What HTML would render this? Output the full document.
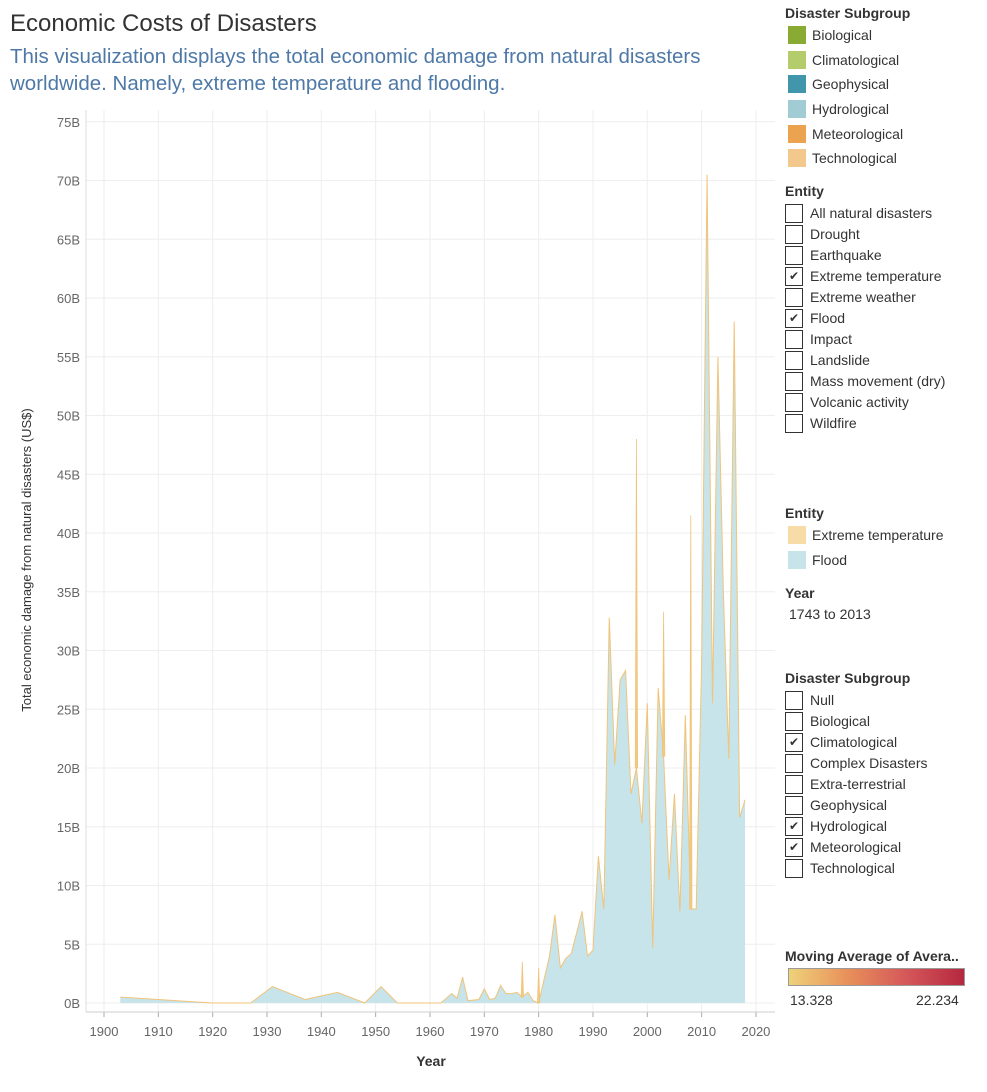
<!DOCTYPE html>
<html><head><meta charset="utf-8"><style>
body{margin:0;width:987px;height:1092px;background:#fff;font-family:"Liberation Sans",sans-serif;position:relative;overflow:hidden;color:#333}
.a{position:absolute;white-space:nowrap}
.h{font-weight:bold;font-size:14px;color:#333}
.li{font-size:14px;color:#333}
.sw{position:absolute;width:18px;height:18px}
.cb{position:absolute;width:18px;height:19px;border:1px solid #333;box-sizing:border-box;font-size:12px;line-height:17px;text-align:center;background:#fff}
</style></head><body>
<div class="a" style="left:10px;top:10px;font-size:24px;color:#333">Economic Costs of Disasters</div>
<div class="a" style="left:10px;top:43px;font-size:20.5px;color:#4e79a7;line-height:27px;white-space:normal;width:740px">This visualization displays the total economic damage from natural disasters worldwide. Namely, extreme temperature and flooding.</div>
<svg id="chart" width="987" height="1092" style="position:absolute;left:0;top:0"></svg>

<script>
const floodYears=[1903,1920,1927,1931,1937,1943,1948,1951,1954,1962,1964,1965,1966,1967,1969,1970,1971,1972,1973,1974,1975,1976,1977,1978,1979,1980,1981,1982,1983,1984,1985,1986,1987,1988,1989,1990,1991,1992,1993,1994,1995,1996,1997,1998,1999,2000,2001,2002,2003,2004,2005,2006,2007,2008,2009,2010,2011,2012,2013,2014,2015,2016,2017,2018];
const floodVals=[0.5,0,0,1.4,0.3,0.9,0,1.4,0,0,0.8,0.4,2.2,0.2,0.3,1.2,0.3,0.4,1.5,0.8,0.8,0.9,0.5,0.9,0.2,0,2,4,7.5,3,3.8,4.2,6,7.8,4,4.5,12.5,8,32.8,20.3,27.5,28.3,17.8,20,15.3,25.5,4.7,26.8,21,10.5,17.8,7.8,24.5,8,8,29,70.5,25.5,55,35,20.8,58,15.8,17.3];
const tempVals=[0,0,0,0,0,0,0,0,0,0,0,0,0,0,0,0,0,0,0,0,0.7,0,3,0,0,3,0.3,0.2,0,0,1.5,1.3,0,0,0,0,0.8,0.2,0,0.3,0.5,0.3,0.2,28,0.3,0.5,0.2,0.2,12.3,0.2,0.3,0.2,0.2,33.5,0.2,0.3,1,0.4,1,0.4,0.3,1,0.3,0.3];
const yTicks=[0,5,10,15,20,25,30,35,40,45,50,55,60,65,70,75];
const xTicks=[1900,1910,1920,1930,1940,1950,1960,1970,1980,1990,2000,2010,2020];
const NS='http://www.w3.org/2000/svg';
const svg=document.getElementById('chart');
const X=yr=>104+(yr-1900)*5.433;
const Y=v=>1003-v*11.75;
function mk(t,at){const e=document.createElementNS(NS,t);for(const k in at)e.setAttribute(k,at[k]);svg.appendChild(e);return e;}
for(const t of yTicks){const l=mk('line',{x1:86,x2:775,y1:Y(t),y2:Y(t),stroke:'#eeeeee'});


const tx=mk('text',{x:80,y:Y(t)+5,'text-anchor':'end','font-size':13,fill:'#666','font-family':'Liberation Sans'});tx.textContent=t+'B';

}
for(const t of xTicks){const l=mk('line',{x1:X(t),x2:X(t),y1:110,y2:1012,stroke:'#eeeeee'});


const k=mk('line',{x1:X(t),x2:X(t),y1:1012,y2:1017,stroke:'#aaa'});


const tx=mk('text',{x:X(t),y:1036,'text-anchor':'middle','font-size':13,fill:'#666','font-family':'Liberation Sans'});tx.textContent=t;

}
const ax=mk('line',{x1:86,x2:86,y1:110,y2:1012,stroke:'#ddd'});


const bx=mk('line',{x1:86,x2:775,y1:1012,y2:1012,stroke:'#ccc'});


let fl='';
floodYears.forEach((y,i)=>{fl+=X(y)+','+Y(floodVals[i])+' ';});
const x0=X(floodYears[0]),x1=X(floodYears[floodYears.length-1]);
const fa=mk('polygon',{points:x0+','+Y(0)+' '+fl+x1+','+Y(0),fill:'#c6e4ea'});


const fo=mk('polyline',{points:fl,fill:'none',stroke:'#f0c47a','stroke-width':1});


floodYears.forEach((y,i)=>{if(tempVals[i]<=2)return;
const b=Y(floodVals[i]),t=Y(floodVals[i]+tempVals[i]),cx=X(y);
const sp=mk('polygon',{points:(cx-1.2)+','+b+' '+cx+','+t+' '+(cx+1.2)+','+b,fill:'#f2c97f',stroke:'#f0c47a','stroke-width':0.8});

});
const yt=mk('text',{transform:'translate(31,560) rotate(-90)','text-anchor':'middle','font-size':13,fill:'#333','font-family':'Liberation Sans'});yt.textContent='Total economic damage from natural disasters (US$)';


const xt=mk('text',{x:431,y:1066,'text-anchor':'middle','font-size':14,'font-weight':'bold',fill:'#333','font-family':'Liberation Sans'});xt.textContent='Year';


</script>

<div class="a h" style="left:785px;top:5px">Disaster Subgroup</div>
<div><div class="sw" style="left:788px;top:26px;background:#8aab33"></div><div class="a li" style="left:812px;top:27px">Biological</div></div>
<div><div class="sw" style="left:788px;top:51px;background:#b5cc6c"></div><div class="a li" style="left:812px;top:52px">Climatological</div></div>
<div><div class="sw" style="left:788px;top:75px;background:#4196ab"></div><div class="a li" style="left:812px;top:76px">Geophysical</div></div>
<div><div class="sw" style="left:788px;top:100px;background:#a2ccd3"></div><div class="a li" style="left:812px;top:101px">Hydrological</div></div>
<div><div class="sw" style="left:788px;top:125px;background:#eba34f"></div><div class="a li" style="left:812px;top:126px">Meteorological</div></div>
<div><div class="sw" style="left:788px;top:149px;background:#f2c88c"></div><div class="a li" style="left:812px;top:150px">Technological</div></div>

<div class="a h" style="left:785px;top:183px">Entity</div>
<div id="ent"></div>
<div class="a h" style="left:785px;top:505px">Entity</div>
<div><div class="sw" style="left:788px;top:526px;background:#f8dca8"></div><div class="a li" style="left:812px;top:527px">Extreme temperature</div></div>
<div><div class="sw" style="left:788px;top:551px;background:#c6e4ea"></div><div class="a li" style="left:812px;top:552px">Flood</div></div>
<div class="a h" style="left:785px;top:585px">Year</div>
<div class="a li" style="left:789px;top:606px">1743 to 2013</div>
<div class="a h" style="left:785px;top:670px">Disaster Subgroup</div>
<div id="sub"></div>
<div class="a h" style="left:785px;top:948px">Moving Average of Avera..</div>
<div class="a" style="left:788px;top:968px;width:177px;height:18px;border:1px solid #999;box-sizing:border-box;background:linear-gradient(to right,#efd27a,#e8905a,#d5585a,#b5283f)"></div>
<div class="a li" style="left:790px;top:992px">13.328</div>
<div class="a li" style="left:916px;top:992px">22.234</div>
<script>
function list(id,y0,items,checked,prefix){const c=document.getElementById(id);items.forEach((t,i)=>{const d=document.createElement('div');


const y=y0+i*21;d.innerHTML='<div class="cb" style="left:785px;top:'+y+'px">'+(checked.includes(t)?'✔':'')+'</div><div class="a li" style="left:810px;top:'+(y+1)+'px">'+t+'</div>';c.appendChild(d);});}
list('ent',204,['All natural disasters','Drought','Earthquake','Extreme temperature','Extreme weather','Flood','Impact','Landslide','Mass movement (dry)','Volcanic activity','Wildfire'],['Extreme temperature','Flood'],'entity-checkbox');
list('sub',691,['Null','Biological','Climatological','Complex Disasters','Extra-terrestrial','Geophysical','Hydrological','Meteorological','Technological'],['Climatological','Hydrological','Meteorological'],'subgroup-checkbox');
</script>
</body></html>
